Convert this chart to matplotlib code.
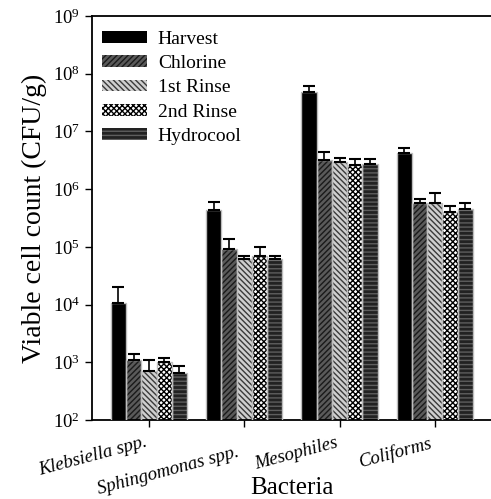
import matplotlib
matplotlib.use('Agg')
import matplotlib.pyplot as plt
import matplotlib.patches as mpatches
import matplotlib.transforms as mtransforms
import numpy as np

plt.rcParams['font.family'] = ['Liberation Serif', 'DejaVu Serif']
plt.rcParams['mathtext.fontset'] = 'custom'
plt.rcParams['mathtext.rm'] = 'Liberation Serif'
plt.rcParams['mathtext.it'] = 'Liberation Serif:italic'
plt.rcParams['hatch.linewidth'] = 1.0

# data
categories = ['Klebsiella spp.', 'Sphingomonas spp.', 'Mesophiles', 'Coliforms']
treatments = ['Harvest', 'Chlorine', '1st Rinse', '2nd Rinse', 'Hydrocool']
means = {
    'Harvest':   [1.05e4, 4.4e5, 4.8e7, 4.2e6],
    'Chlorine':  [1.08e3, 9.2e4, 3.2e6, 5.7e5],
    '1st Rinse': [7.1e2, 6.2e4, 2.9e6, 5.8e5],
    '2nd Rinse': [1.0e3, 6.9e4, 2.6e6, 4.1e5],
    'Hydrocool': [6.5e2, 6.2e4, 2.7e6, 4.5e5],
}
upper = {
    'Harvest':   [2.0e4, 6.0e5, 6.2e7, 5.1e6],
    'Chlorine':  [1.4e3, 1.35e5, 4.45e6, 6.8e5],
    '1st Rinse': [1.12e3, 7.1e4, 3.5e6, 8.7e5],
    '2nd Rinse': [1.17e3, 1.0e5, 3.3e6, 5.1e5],
    'Hydrocool': [8.7e2, 7.1e4, 3.4e6, 5.7e5],
}

# face colour, hatch colour, hatch
styles = {
    'Harvest':   ('black', 'black', None),
    'Chlorine':  ('#5a5a5a', '#1a1a1a', '//////'),
    '1st Rinse': ('#cfcfcf', '#3a3a3a', '\\\\\\\\\\\\'),
    '2nd Rinse': ('white', 'black', 'xxxxxx'),
    'Hydrocool': ('#222222', '#5e5e5e', '----'),
}

fig = plt.figure(figsize=(4.91, 4.99), dpi=100)
ax = fig.add_axes([0.187, 0.158, 0.815, 0.81])

x = np.arange(len(categories))
width = 0.16
handles = []
for i, t in enumerate(treatments):
    pos = x + (i - 2) * width
    face, hcol, hatch = styles[t]
    vals = np.array(means[t])
    err = np.array(upper[t]) - vals
    ax.bar(pos, vals, width, color=face, edgecolor=hcol,
           hatch=hatch, linewidth=0, zorder=2)
    ax.bar(pos, vals, width, fill=False, edgecolor='#bdbdbd', linewidth=1.0, zorder=3)
    ax.errorbar(pos, vals, yerr=[np.zeros_like(err), err], fmt='none',
                ecolor='black', elinewidth=1.2, capsize=4, capthick=1.5, zorder=4)
    handles.append(mpatches.Patch(facecolor=face, edgecolor=hcol, hatch=hatch, linewidth=0))

ax.set_yscale('log')
ax.set_ylim(1e2, 1e9)
ax.set_xlim(-0.6, 3.6)
ax.yaxis.set_minor_locator(matplotlib.ticker.NullLocator())
ax.set_yticks([10.0 ** k for k in range(2, 10)])
ax.set_yticklabels(['10$^{%d}$' % k for k in range(2, 10)], fontsize=13.5)
ax.set_xticks(x)
ax.set_xticklabels(categories, fontsize=13.5, style='italic', rotation=15, ha='right')
ax.tick_params(direction='out', length=5, width=1)
ax.tick_params(axis='x', pad=5)
# second label sits lower so it does not run into the first one
lbls = ax.get_xticklabels()
lbls[1].set_transform(lbls[1].get_transform() +
                      mtransforms.ScaledTranslation(-0.03, -0.10, fig.dpi_scale_trans))

ax.spines['right'].set_visible(False)
for s in ['left', 'top', 'bottom']:
    ax.spines[s].set_linewidth(1.3)

ax.set_ylabel('Viable cell count (CFU/g)', fontsize=20, labelpad=4)
ax.set_xlabel('Bacteria', fontsize=18)
ax.xaxis.set_label_coords(0.5, -0.14)

ax.legend(handles, treatments, loc='upper left', bbox_to_anchor=(-0.01, 1.0),
          frameon=False, fontsize=14, handlelength=2.3, handleheight=0.55,
          labelspacing=0.38, borderaxespad=0.0, borderpad=0.75, handletextpad=0.55)

fig.savefig('out.png', dpi=100)
